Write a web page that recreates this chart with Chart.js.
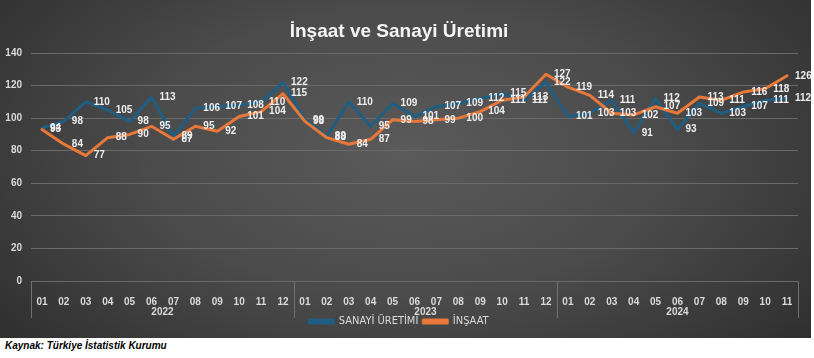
<!DOCTYPE html>
<html>
<head>
<meta charset="utf-8">
<script src="https://cdn.jsdelivr.net/npm/chart.js@4.4.1/dist/chart.umd.min.js"></script>
<style>
  body { margin: 0; background: #fff; width: 814px; height: 358px; overflow: hidden; }
  #panel {
    position: absolute; left: 0; top: 0; width: 811px; height: 338px;
    background: radial-gradient(ellipse 70% 95% at 50% 45%, #5a5a5a 0%, #4b4b4b 45%, #363636 80%, #2a2a2a 100%);
  }
  #src { position: absolute; left: 5px; top: 340px; font: italic bold 10px "Liberation Sans", Arial, sans-serif; color: #000; }
</style>
</head>
<body>
<div id="panel"><canvas id="myChart" width="811" height="338"></canvas></div>
<div id="src">Kaynak: Türkiye İstatistik Kurumu</div>
<script>
// months per year, 2022-01 .. 2024-11
const months = ['01','02','03','04','05','06','07','08','09','10','11','12',
                '01','02','03','04','05','06','07','08','09','10','11','12',
                '01','02','03','04','05','06','07','08','09','10','11'];
const years = ['2022', '2023', '2024'];
const yearCounts = [12, 12, 11];

const sanayi = [94, 98, 110, 105, 98, 113, 89, 106, 107, 108, 110, 122,
                99, 89, 110, 95, 109, 101, 107, 109, 112, 115, 111, 122,
                101, 103, 111, 91, 112, 93, 109, 103, 107, 111, 112];
const insaat = [93, 84, 77, 88, 90, 95, 87, 95, 92, 101, 104, 115,
                98, 88, 84, 87, 99, 98, 99, 100, 104, 111, 113, 127,
                119, 114, 103, 102, 107, 103, 113, 111, 116, 118, 126];

const blue = '#1f5e82';
const orange = '#e8783a';
const txt = '#dadada';

// value labels to the right of each point
const pointLabels = {
  id: 'pointLabels',
  afterDatasetsDraw(chart) {
    const ctx = chart.ctx;
    ctx.save();
    ctx.font = 'bold 10px "Liberation Sans", Arial';
    ctx.fillStyle = '#eeeeee';
    ctx.textBaseline = 'middle';
    chart.data.datasets.forEach((ds, i) => {
      chart.getDatasetMeta(i).data.forEach((pt, j) => {
        ctx.fillText(ds.data[j], pt.x + 8, pt.y);
      });
    });
    ctx.restore();
  }
};

// second level of x axis: years and the bracket lines
const yearAxis = {
  id: 'yearAxis',
  afterDraw(chart) {
    const {ctx, chartArea} = chart;
    const x = chart.scales.x;
    const half = (x.getPixelForValue(1) - x.getPixelForValue(0)) / 2;
    const sep = px => {
      const p = Math.round(px) + 0.5;
      ctx.beginPath();
      ctx.moveTo(p, chartArea.bottom);
      ctx.lineTo(p, chartArea.bottom + 37);
      ctx.stroke();
    };
    ctx.save();
    ctx.strokeStyle = '#707070';
    ctx.lineWidth = 1;
    ctx.fillStyle = txt;
    ctx.font = 'bold 10px "Liberation Sans Narrow", "Liberation Sans", Arial';
    ctx.textAlign = 'center';
    ctx.textBaseline = 'middle';
    let start = 0;
    sep(x.getPixelForValue(0) - half);
    years.forEach((yr, i) => {
      const end = start + yearCounts[i] - 1;
      const mid = (x.getPixelForValue(start) + x.getPixelForValue(end)) / 2;
      ctx.fillText(yr, mid, chartArea.bottom + 31);
      sep(x.getPixelForValue(end) + half);
      start = end + 1;
    });
    ctx.restore();
  }
};

const ctx = document.getElementById('myChart');
const myChart = new Chart(ctx, {
  type: 'line',
  data: {
    labels: months,
    datasets: [{
      label: 'SANAYİ ÜRETİMİ',
      data: sanayi,
      borderColor: blue,
      backgroundColor: blue,
      borderWidth: 3,
      pointRadius: 0,
      tension: 0,
      borderJoinStyle: 'round',
      borderCapStyle: 'round',
      order: 1
    }, {
      label: 'İNŞAAT',
      data: insaat,
      borderColor: orange,
      backgroundColor: orange,
      borderWidth: 3,
      pointRadius: 0,
      tension: 0,
      borderJoinStyle: 'round',
      borderCapStyle: 'round',
      order: 0
    }]
  },
  options: {
    responsive: false,
    animation: false,
    layout: { padding: { left: 0, right: 13, top: 0, bottom: 1 } },
    plugins: {
      title: {
        display: true,
        text: 'İnşaat ve Sanayi Üretimi',
        color: '#f4f4f4',
        font: { family: '"Liberation Sans", Arial', size: 19, weight: 'bold' },
        padding: { top: 20, bottom: 10.2 }
      },
      legend: {
        position: 'bottom',
        labels: {
          boxWidth: 24,
          boxHeight: 3,
          padding: 5,
          color: txt,
          font: { family: '"Liberation Sans Narrow", "DejaVu Sans Condensed", Arial', size: 11 },
          sort: (a, b) => a.datasetIndex - b.datasetIndex
        }
      },
      tooltip: { enabled: false }
    },
    scales: {
      x: {
        offset: true,
        grid: { display: false },
        border: { display: false },
        ticks: {
          color: txt,
          padding: 7,
          autoSkip: false,
          maxRotation: 0,
          font: { family: '"Liberation Sans Narrow", "Liberation Sans", Arial', size: 10, weight: 'bold' }
        },
        afterFit: (scale) => { scale.height = 30; }
      },
      y: {
        min: 0,
        max: 140,
        grid: { color: '#6a6a6a', drawTicks: false },
        border: { display: false },
        ticks: {
          stepSize: 20,
          color: txt,
          padding: 9,
          font: { family: '"Liberation Sans Narrow", "Liberation Sans", Arial', size: 10, weight: 'bold' }
        },
        afterFit: (scale) => { scale.width = 31; }
      }
    }
  },
  plugins: [pointLabels, yearAxis]
});
</script>
</body>
</html>
